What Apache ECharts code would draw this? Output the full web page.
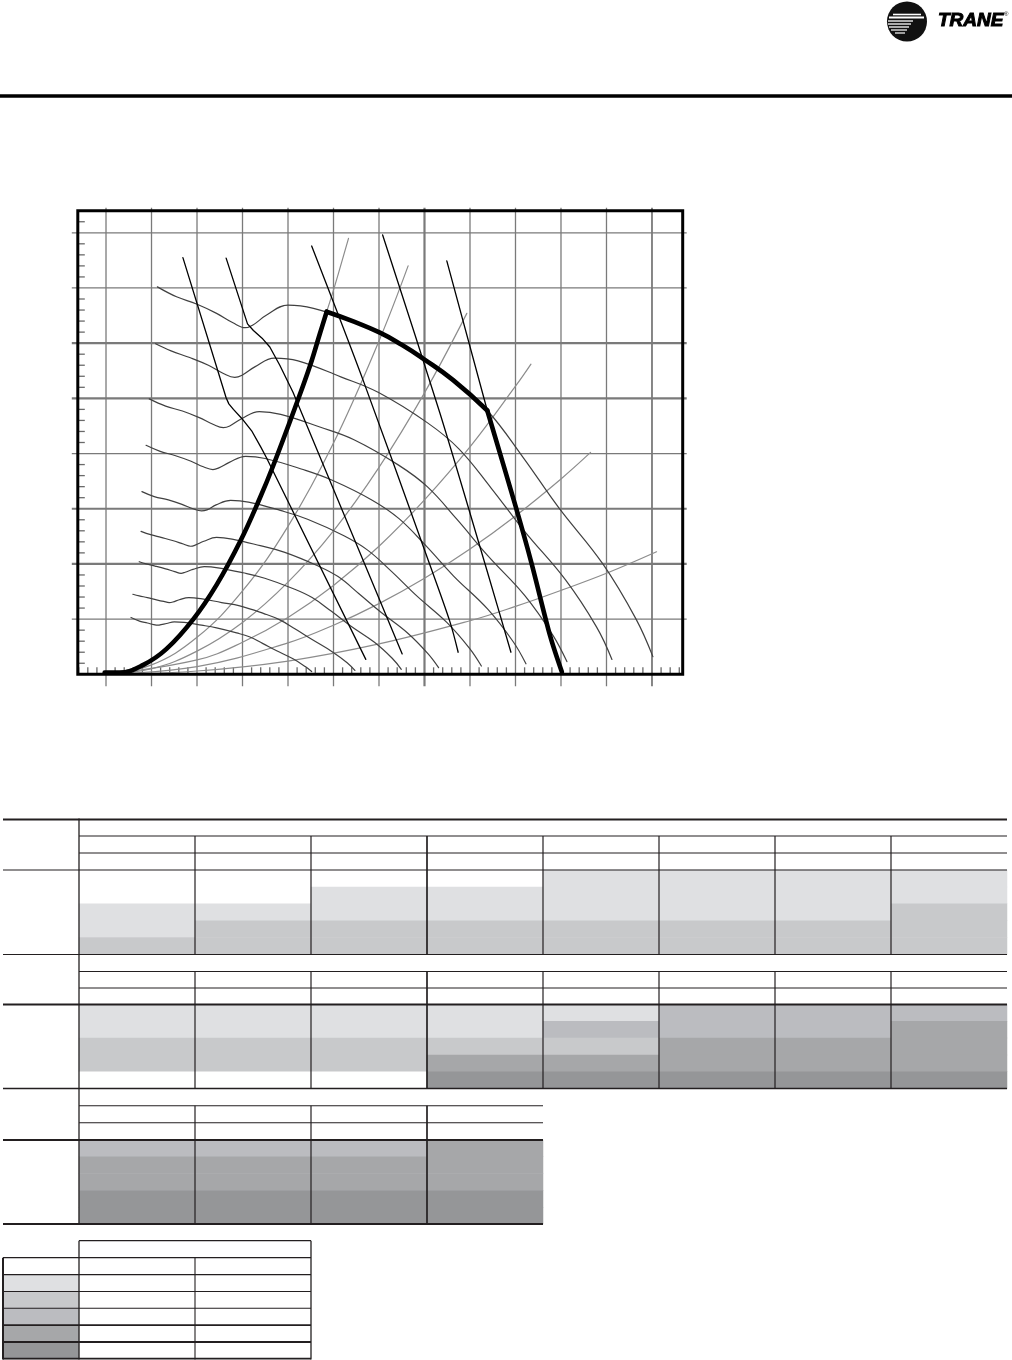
<!DOCTYPE html>
<html>
<head>
<meta charset="utf-8">
<script src="https://cdn.jsdelivr.net/npm/echarts@6/dist/echarts.min.js"></script>
<style>
html,body{margin:0;padding:0;background:#fff;}
#c{width:1012px;height:1360px;}
</style>
</head>
<body>
<div id="c"></div>
<script>
// ---------------- DATA (airflow in grid units on x, static pressure in grid units on y) ----------------
const xGridLines = [0,1,2,3,4,5,6,7,8,9,10,11,12];
const yGridLines = [1,2,3,4,5,6,7,8];

// Fan curves (constant-speed), highest speed first
const fan1 = [[1.13,7.02],[1.55,6.84],[1.99,6.71],[2.43,6.54],[2.79,6.37],[3.06,6.28],[3.23,6.33],[3.53,6.51],[4.00,6.69],[4.56,6.63],[5.45,6.39],[6.02,6.19],[6.50,5.97],[6.97,5.72],[7.63,5.33],[8.38,4.78],[9.15,3.95],[9.95,3.02],[10.92,2.00],[11.65,1.00],[12.02,0.32]];
const fan2 = [[1.09,5.99],[1.43,5.86],[1.84,5.74],[2.25,5.60],[2.58,5.45],[2.83,5.38],[2.99,5.42],[3.27,5.57],[3.70,5.73],[4.22,5.68],[5.16,5.39],[5.98,5.11],[7.06,4.56],[7.75,4.09],[8.46,3.38],[9.20,2.59],[10.10,1.71],[10.78,0.86],[11.12,0.27]];
const fan3 = [[0.95,4.99],[1.31,4.86],[1.68,4.77],[2.05,4.65],[2.35,4.53],[2.58,4.47],[2.72,4.50],[2.98,4.63],[3.37,4.76],[3.84,4.71],[4.70,4.48],[5.45,4.25],[6.43,3.79],[7.06,3.40],[7.71,2.81],[8.39,2.15],[9.21,1.42],[9.82,0.71],[10.13,0.23]];
const fan4 = [[0.88,4.15],[1.19,4.04],[1.53,3.96],[1.87,3.86],[2.14,3.76],[2.35,3.71],[2.48,3.74],[2.71,3.84],[3.07,3.95],[3.50,3.91],[4.29,3.72],[4.96,3.52],[5.86,3.15],[6.44,2.82],[7.03,2.33],[7.64,1.78],[8.39,1.18],[8.95,0.59],[9.23,0.19]];
const fan5 = [[0.79,3.31],[1.06,3.22],[1.37,3.16],[1.67,3.08],[1.91,3.00],[2.10,2.96],[2.22,2.98],[2.42,3.07],[2.74,3.15],[3.13,3.12],[3.83,2.97],[4.43,2.81],[5.23,2.51],[5.75,2.25],[6.28,1.86],[6.83,1.42],[7.49,0.94],[7.99,0.47],[8.25,0.15]];
const fan6 = [[0.77,2.59],[0.98,2.53],[1.21,2.48],[1.48,2.42],[1.70,2.36],[1.86,2.32],[1.96,2.34],[2.15,2.41],[2.43,2.48],[2.77,2.45],[3.39,2.33],[3.93,2.21],[4.64,1.97],[5.10,1.77],[5.56,1.46],[6.05,1.12],[6.64,0.74],[7.08,0.37],[7.31,0.12]];
const fan7 = [[0.73,2.04],[0.88,2.00],[1.08,1.96],[1.31,1.91],[1.51,1.86],[1.65,1.83],[1.74,1.85],[1.91,1.90],[2.16,1.95],[2.46,1.93],[3.01,1.84],[3.49,1.74],[4.12,1.55],[4.53,1.39],[4.94,1.15],[5.37,0.88],[5.90,0.58],[6.29,0.29],[6.49,0.09]];
const fan8 = [[0.59,1.45],[0.73,1.42],[0.91,1.39],[1.11,1.35],[1.27,1.32],[1.39,1.30],[1.47,1.31],[1.61,1.35],[1.82,1.39],[2.08,1.37],[2.54,1.30],[2.94,1.24],[3.47,1.10],[3.81,0.99],[4.16,0.82],[4.53,0.63],[4.97,0.41],[5.30,0.21],[5.47,0.07]];
const fan9 = [[0.55,1.03],[0.75,0.96],[0.91,0.93],[1.05,0.90],[1.15,0.89],[1.21,0.90],[1.33,0.92],[1.50,0.95],[1.72,0.94],[2.10,0.89],[2.43,0.84],[2.87,0.75],[3.15,0.68],[3.44,0.56],[3.74,0.43],[4.11,0.28],[4.38,0.14],[4.52,0.05]];

// Power lines (black)
const power1 = [[1.69,7.55],[2.64,5.01],[2.70,4.90],[2.80,4.80],[2.98,4.64],[3.21,4.40],[3.40,4.12],[3.53,3.92],[5.71,0.27]];
const power2 = [[2.64,7.54],[3.11,6.35],[3.24,6.23],[3.43,6.09],[3.60,5.93],[3.82,5.60],[4.11,5.11],[6.51,0.37]];
const power3 = [[4.52,7.76],[5.65,5.33],[7.08,2.07],[7.56,0.95],[7.74,0.40]];
const power4 = [[6.08,7.96],[7.34,4.73],[8.37,1.89],[8.90,0.40]];
const power5 = [[7.49,7.49],[8.38,4.78]];

// System curves (grey)
const sys1 = [[0,0],[0.82,0.17],[1.33,0.46],[1.92,1.00],[2.43,1.62],[2.95,2.41],[3.38,3.19],[3.67,3.77],[4.19,4.91],[4.48,5.58],[4.70,6.17],[4.85,6.57],[5.00,6.96],[5.33,7.90]];
const sys2 = [[0,0],[1,0.17],[2,0.67],[3,1.51],[4,2.68],[5,4.19],[6,6.04],[6.64,7.40]];
const sys3 = [[0,0],[1,0.10],[2,0.42],[3,0.94],[4,1.67],[5,2.60],[6,3.75],[7,5.10],[7.93,6.54]];
const sys4 = [[0,0],[2,0.26],[3,0.58],[4,1.03],[5,1.61],[6,2.32],[7,3.16],[8,4.12],[9,5.22],[9.34,5.62]];
const sys5 = [[0,0],[2,0.14],[4,0.57],[5,0.89],[6,1.28],[7,1.74],[8,2.27],[9,2.87],[10,3.54],[10.65,4.02]];
const sys6 = [[0,0],[2,0.06],[4,0.24],[6,0.55],[8,0.97],[9,1.23],[10,1.52],[11,1.83],[12.10,2.22]];

// Operating envelope (heavy black)
const envelopeLeft  = [[-0.03,0.03],[0.30,0.03],[0.82,0.17],[1.33,0.46],[1.92,1.00],[2.43,1.62],[2.95,2.41],[3.38,3.19],[3.67,3.77],[4.19,4.91],[4.48,5.58],[4.70,6.17],[4.85,6.57]];
const envelopeTop   = [[4.85,6.57],[5.45,6.39],[6.02,6.19],[6.50,5.97],[6.97,5.72],[7.63,5.33],[8.38,4.78]];
const envelopeRight = [[8.38,4.78],[9.00,3.05],[9.35,2.02],[9.76,0.70],[10.02,0.04]];

// Table shading levels (per column, 5 sub-rows each), 0 = white ... 5 = darkest
const table1Cols = ['A','B','C','D','E','F','G','H'];
const table1Shades = [[0,0,1,1,2],[0,0,1,2,2],[0,1,1,2,2],[0,1,1,2,2],[1,1,1,2,2],[1,1,1,2,2],[1,1,1,2,2],[1,1,2,2,2]];
const table2Shades = [[1,1,2,2,0],[1,1,2,2,0],[1,1,2,2,0],[1,1,2,4,5],[1,3,2,4,5],[3,3,4,4,5],[3,3,4,4,5],[3,4,4,4,5]];
const table3Cols = ['A','B','C','D'];
const table3Shades = [[3,4,4,5,5],[3,4,4,5,5],[3,4,4,5,5],[4,4,4,5,5]];
const legendShades = [[0,1,2,3,4,5]];
const subRows5 = ['r1','r2','r3','r4','r5'];
const subRows6 = ['r1','r2','r3','r4','r5','r6'];

// ---------------- STYLE / LAYOUT ----------------
const palette = ['#ffffff','#dfe0e2','#c8c9cb','#bbbcc0','#a6a7a9','#959698'];
const X_MIN = -0.62, X_MAX = 12.675, Y_MIN = 0, Y_MAX = 8.4;
const PL = 77.8, PT = 210.7, PW = 604.9, PH = 463.6;
const GRID_C = '#7a7a7a';
const xHeavy = {7: 2.2, 12: 1.8};
const yHeavy = {2: 2.2, 3: 2.2, 5: 2.2, 6: 2.2};
const LINE_C = '#231f20';

const xMinor = [], yMinor = [];
for (let k = -3; k <= 63; k++) if (k % 5 !== 0) xMinor.push([+(k*0.2).toFixed(2), 0]);
for (let k = 1; k <= 41; k++) if (k % 5 !== 0) yMinor.push([0, +(k*0.2).toFixed(2)]);

function lineS(data, color, width, smooth, z) {
  return {type:'line', xAxisIndex:0, yAxisIndex:0, data, showSymbol:false, symbol:'none',
    smooth, z, silent:true, animation:false,
    lineStyle:{color, width, cap:'round', join:'round'}};
}
function heat(gi, shades) {
  const data = [];
  shades.forEach((col, c) => col.forEach((lvl, r) => data.push({value:[c, r, lvl], itemStyle:{color: palette[lvl]}})));
  return {type:'heatmap', xAxisIndex:gi, yAxisIndex:gi, data, silent:true, animation:false, emphasis:{disabled:true}};
}

// table rules (layout)
const rules = [
  [3,819.5,1007,819.5,2],[79,836,1007,836,1.1],[79,853,1007,853,1.1],[3,870,1007,870,1.2],
  [3,954.5,1007,954.5,1.2],[79,971.5,1007,971.5,1.1],[79,988,1007,988,1.1],[3,1004.5,1007,1004.5,2.2],
  [3,1088.5,1007,1088.5,1.6],
  [79,818.5,79,1224,1.3],
  [79,1105.7,543,1105.7,1.1],[79,1122.7,543,1122.7,1.1],[3,1140,543,1140,2],[3,1224,543,1224,2],
  [79,1240.7,311,1240.7,1.3],[79,1240.7,79,1359.5,1.3],[311,1240.7,311,1359.5,1.3],
  [3,1257.7,311,1257.7,1.3],[3,1257.7,3,1359.5,2],[195,1257.7,195,1359.5,1.1],
  [3,1274.6,311,1274.6,1.1],[3,1291.5,311,1291.5,1.1],[3,1308.3,311,1308.3,1.1],
  [3,1325.2,311,1325.2,1.8],[3,1342,311,1342,1.8],[3,1358.6,311,1358.6,1.8]
];
[195,311,427,543,659,775,891].forEach(x => {
  const w = x === 427 ? 1.7 : 1.2;
  rules.push([x,836,x,954.5,w]);
  rules.push([x,971.5,x,1088.5,w]);
});
[195,311,427].forEach(x => rules.push([x,1105.7,x,1224,x===427?1.7:1.2]));

const graphics = [];
rules.forEach(r => graphics.push({type:'line', shape:{x1:r[0],y1:r[1],x2:r[2],y2:r[3]}, style:{stroke:LINE_C, lineWidth:r[4]}, silent:true, z:50}));
// header rule
graphics.push({type:'rect', shape:{x:0,y:94.3,width:1012,height:3.4}, style:{fill:'#000'}, silent:true});
// plot frame
graphics.push({type:'rect', shape:{x:PL,y:PT,width:PW,height:PH}, style:{fill:null, stroke:'#000', lineWidth:3}, silent:true, z:100});
// logo
graphics.push({type:'circle', shape:{cx:907,cy:21.5,r:20}, style:{fill:'#111'}, silent:true, z:60});
[[14.5,893,921,1.6],[17.5,889,924,2],[21,888,913,1.3],[24,888,911,1.3],[27,889,909,1.3],[30,891,907,1.2],[33,895,905,1.2]].forEach(s => {
  graphics.push({type:'line', shape:{x1:s[1],y1:s[0],x2:s[2],y2:s[0]}, style:{stroke:'#fff', lineWidth:s[3]}, silent:true, z:61});
});
graphics.push({type:'text', x:938, y:21, style:{text:'TRANE', font:'italic bold 19px "Liberation Sans", Arial, sans-serif', fill:'#000', stroke:'#000', lineWidth:1, verticalAlign:'middle'}, silent:true, z:60});
graphics.push({type:'text', x:1004, y:14, style:{text:'®', font:'6px "Liberation Sans", sans-serif', fill:'#000', verticalAlign:'middle'}, silent:true, z:60});

const hiddenCat = (gi, data, inverse) => ({type:'category', gridIndex:gi, data, inverse:!!inverse, show:false});

const option = {
  animation:false,
  backgroundColor:'#fff',
  grid:[
    {left:PL, top:PT, width:PW, height:PH, show:false},
    {left:79, top:870, width:928, height:84.5, show:false},
    {left:79, top:1004.5, width:928, height:84, show:false},
    {left:79, top:1140, width:464, height:84, show:false},
    {left:3, top:1257.7, width:76, height:101.3, show:false}
  ],
  xAxis:[
    {type:'value', gridIndex:0, min:X_MIN, max:X_MAX, show:false},
    hiddenCat(1, table1Cols), hiddenCat(2, table1Cols), hiddenCat(3, table3Cols), hiddenCat(4, ['S'])
  ],
  yAxis:[
    {type:'value', gridIndex:0, min:Y_MIN, max:Y_MAX, show:false},
    hiddenCat(1, subRows5, true), hiddenCat(2, subRows5, true), hiddenCat(3, subRows5, true), hiddenCat(4, subRows6, true)
  ],
  graphic: graphics,
  series:[
    {type:'custom', xAxisIndex:0, yAxisIndex:0, z:1, silent:true, clip:false, data:xGridLines.map(v=>[v,0]),
      renderItem(p, api){
        const x = api.value(0);
        const a = api.coord([x, Y_MIN]), b = api.coord([x, Y_MAX]);
        return {type:'line', shape:{x1:a[0],y1:a[1]+12,x2:b[0],y2:b[1]-3}, style:{stroke:GRID_C, lineWidth:xHeavy[x]||1.3}};
      }},
    {type:'custom', xAxisIndex:0, yAxisIndex:0, z:1, silent:true, clip:false, data:yGridLines.map(v=>[0,v]),
      renderItem(p, api){
        const y = api.value(1);
        const a = api.coord([X_MIN, y]), b = api.coord([X_MAX, y]);
        return {type:'line', shape:{x1:a[0]-6,y1:a[1],x2:b[0]+4,y2:b[1]}, style:{stroke:GRID_C, lineWidth:yHeavy[y]||1.3}};
      }},
    {type:'custom', xAxisIndex:0, yAxisIndex:0, z:1, silent:true, clip:false, data:xMinor,
      renderItem(p, api){
        const a = api.coord([api.value(0), Y_MIN]);
        return {type:'line', shape:{x1:a[0],y1:a[1],x2:a[0],y2:a[1]-7}, style:{stroke:'#6a6a6a', lineWidth:1.3}};
      }},
    {type:'custom', xAxisIndex:0, yAxisIndex:0, z:1, silent:true, clip:false, data:yMinor,
      renderItem(p, api){
        const a = api.coord([X_MIN, api.value(1)]);
        return {type:'line', shape:{x1:a[0],y1:a[1],x2:a[0]+7,y2:a[1]}, style:{stroke:'#6a6a6a', lineWidth:1.3}};
      }},
    lineS(sys1,'#8c8c8c',1.2,0.4,2), lineS(sys2,'#8c8c8c',1.2,0.4,2), lineS(sys3,'#8c8c8c',1.2,0.4,2),
    lineS(sys4,'#8c8c8c',1.2,0.4,2), lineS(sys5,'#8c8c8c',1.2,0.4,2), lineS(sys6,'#8c8c8c',1.2,0.4,2),
    lineS(fan1,'#404040',1.2,0.4,3), lineS(fan2,'#404040',1.2,0.4,3), lineS(fan3,'#404040',1.2,0.4,3),
    lineS(fan4,'#404040',1.2,0.4,3), lineS(fan5,'#404040',1.2,0.4,3), lineS(fan6,'#404040',1.2,0.4,3),
    lineS(fan7,'#404040',1.2,0.4,3), lineS(fan8,'#404040',1.2,0.4,3), lineS(fan9,'#404040',1.2,0.4,3),
    lineS(power1,'#000',1.3,false,4), lineS(power2,'#000',1.3,false,4), lineS(power3,'#000',1.3,0.3,4),
    lineS(power4,'#000',1.3,0.3,4), lineS(power5,'#000',1.3,false,4),
    lineS(envelopeLeft,'#000',4.6,0.4,5), lineS(envelopeTop,'#000',4.6,0.5,5), lineS(envelopeRight,'#000',4.6,0.3,5),
    heat(1, table1Shades),
    heat(2, table2Shades),
    heat(3, table3Shades),
    heat(4, legendShades)
  ]
};
const chart = echarts.init(document.getElementById('c'));
chart.setOption(option);
</script>
</body>
</html>
